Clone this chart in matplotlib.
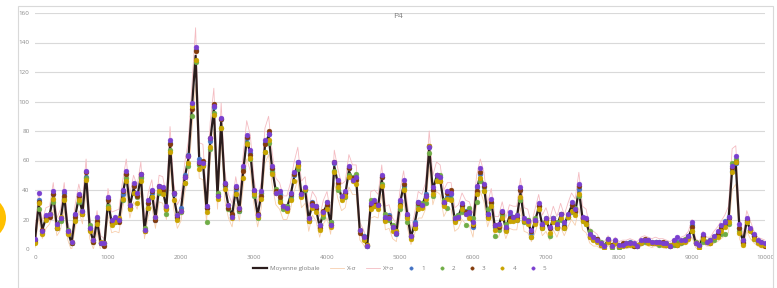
import numpy as np
import matplotlib
matplotlib.use("Agg")
import matplotlib.pyplot as plt
from matplotlib.patches import Rectangle, Circle

plt.rcParams['font.family'] = ['Open Sans', 'DejaVu Sans']

x_start, x_step = 0, 50
title = "P4"
legend_labels = ["Moyenne globale", "X-σ", "X+σ", "1", "2", "3", "4", "5"]
yticks = [0, 20, 40, 60, 80, 100, 120, 140, 160]
xticks = [0, 1000, 2000, 3000, 4000, 5000, 6000, 7000, 8000, 9000, 10000]

mean = [6,30,13,21,23,36,15,20,36,12,
        4,22,35,25,50,14,5,19,4,3,
        32,18,19,19,37,50,29,41,35,49,
        13,30,38,21,41,40,28,70,36,22,
        27,48,61,96,131,60,59,27,73,95,
        36,86,43,29,23,40,27,52,74,65,
        39,23,37,70,77,54,39,36,28,28,
        36,49,58,37,40,20,31,27,15,25,
        30,17,56,44,35,37,53,47,47,12,
        8,2,30,31,29,47,21,22,14,11,
        31,43,23,8,17,30,29,36,68,40,
        49,47,31,36,36,20,22,29,25,24,
        16,40,50,42,23,32,15,15,24,14,
        22,21,21,38,20,19,11,19,28,16,
        20,13,21,15,23,16,23,29,25,40,
        21,19,9,7,6,3,2,6,2,5,
        2,3,3,4,3,2,5,6,5,4,
        5,4,4,3,2,4,4,5,6,8,
        14,4,2,8,5,5,8,10,13,16,
        20,54,57,14,5,19,13,8,5,4,
        3]

sigma = [5,9,6,7,6,9,6,7,9,6,
         5,8,9,8,11,7,5,7,5,4,
         9,7,7,8,9,11,8,9,8,10,
         6,8,9,7,9,9,8,13,9,8,
         8,10,12,15,19,12,12,9,13,14,
         9,13,10,8,8,9,8,11,13,12,
         9,8,9,12,13,11,9,9,8,8,
         9,10,11,9,9,8,8,8,7,8,
         9,7,11,10,9,9,11,10,10,6,
         5,4,9,9,8,10,8,8,7,6,
         9,10,8,5,7,9,8,9,12,10,
         10,10,9,9,9,8,8,9,8,8,
         8,10,11,10,8,9,7,7,8,7,
         8,8,8,10,8,8,6,8,9,7,
         8,7,8,7,8,7,8,9,9,12,
         8,8,5,5,4,3,3,3,3,3,
         3,3,3,3,3,3,3,3,3,3,
         3,3,3,3,3,3,3,3,3,4,
         6,3,3,4,3,3,4,5,6,7,
         9,14,13,7,4,7,6,4,3,3,
         3]

dev1 = [0,3,-1,1,0,1,-1,0,2,0,
        0,1,1,0,-1,0,1,-1,0,0,
        2,1,0,1,0,1,-1,2,1,0,
        0,1,0,-1,1,-1,0,2,1,-1,
        1,2,3,2,4,1,-2,1,0,1,
        1,2,0,-1,0,1,-1,2,1,0,
        -1,0,1,2,1,0,-1,1,0,1,
        0,1,1,-1,0,0,1,0,1,0,
        -1,1,2,-1,0,1,2,0,1,0,
        1,0,0,-1,1,2,0,1,0,-1,
        1,0,-1,0,1,2,0,1,1,0,
        1,2,0,-1,1,0,1,0,1,0,
        -1,2,1,0,1,-1,0,1,0,-1,
        1,0,-1,2,0,1,0,-1,1,0,
        0,1,0,-1,1,0,-1,1,0,1,
        0,-1,1,0,1,0,0,1,0,0,
        1,0,0,1,0,0,-1,0,1,0,
        0,1,0,0,1,0,1,0,0,1,
        2,0,1,0,0,1,0,1,2,3,
        2,-1,1,0,0,1,0,1,0,0,
        0]

dev2 = [0,-3,-2,0,1,-4,1,-1,-2,1,
        0,-2,-3,1,-2,2,0,2,0,1,
        -3,0,-1,1,-4,-2,1,-3,0,-1,
        1,-2,-3,0,-3,-2,-4,-3,2,1,
        -2,-3,-5,-6,-4,-3,-2,-9,-5,-3,
        2,-4,1,-2,-1,-3,-1,3,-2,-4,
        -3,-2,1,-4,-5,-2,2,-3,-1,1,
        -2,2,-4,-1,0,1,-2,2,1,-3,
        2,1,-3,-4,1,-2,-3,2,4,0,
        -1,0,3,-2,1,-3,3,-2,2,1,
        -4,-2,-5,1,-3,0,2,-5,-3,-4,
        -2,3,2,-8,-2,2,1,-4,-9,4,
        5,-8,-4,-3,4,-1,-6,-2,-1,3,
        -2,0,2,-5,-2,1,-3,2,-1,-2,
        1,-4,0,3,-3,-2,-1,-4,3,-4,
        -2,-2,3,1,1,2,1,0,-1,-1,
        -1,0,1,0,-1,1,0,-1,0,1,
        0,-1,0,1,0,-1,0,-1,1,0,
        -2,1,0,-3,0,1,-2,-1,-3,-6,
        -3,4,4,-2,1,-1,0,-1,0,1,
        0]

dev3 = [-1,2,0,0,-1,1,-1,1,0,-1,
        0,0,1,-1,2,-1,0,0,0,-1,
        1,0,0,-1,2,1,-1,2,1,2,
        -1,1,1,-1,2,0,-1,1,2,0,
        -1,1,2,-1,3,-2,1,1,2,3,
        0,2,1,-1,1,2,0,1,2,-1,
        0,1,-1,1,3,1,0,-1,1,-1,
        1,2,-1,0,1,-1,0,1,-1,1,
        0,-1,3,1,0,1,2,1,0,-1,
        0,1,-1,0,1,2,-1,0,1,0,
        -1,1,0,1,-1,1,0,0,2,0,
        1,-1,0,2,4,0,-1,1,0,1,
        0,-1,2,1,-1,0,1,0,1,0,
        -1,1,0,2,-1,0,1,0,1,-1,
        0,1,-1,0,1,-1,0,1,1,3,
        0,1,-1,0,1,0,0,0,1,0,
        0,1,0,0,-1,0,0,1,0,0,
        -1,0,1,0,0,1,-1,0,0,0,
        1,0,0,1,0,-1,0,0,1,1,
        1,1,2,0,-1,1,0,1,0,0,
        -1]

dev4 = [-2,1,-3,-1,1,-2,-1,2,-3,-2,
        1,-3,-2,-1,-3,-2,1,-2,1,1,
        -4,-2,-1,2,-3,-4,-2,-3,-4,-3,
        -1,-2,-3,1,-2,-3,-1,-4,-3,-2,
        -1,-3,-3,1,-3,-6,-3,-2,-4,-4,
        -2,-4,-2,1,-2,-3,1,-4,-3,-3,
        -2,-1,-3,-4,-3,-3,-1,-4,1,-2,
        -3,-3,-2,-2,1,-1,-3,-2,-2,-1,
        -3,-2,-4,-2,-2,-1,-4,-1,-3,1,
        -2,1,-3,-2,-2,-4,-2,-1,-2,1,
        -2,-3,-2,-1,-3,-3,-1,-2,2,-3,
        -3,-1,-2,-2,-3,-2,-1,-2,-1,-3,
        1,-3,-2,-3,-2,-3,-2,1,-3,-2,
        -3,-2,-1,-3,-1,-2,-3,-2,-1,-2,
        -2,-2,-3,-1,-2,-2,-1,-3,-2,-3,
        -2,-2,-1,-1,-1,0,-1,-1,0,-1,
        0,-1,0,-1,0,1,-1,0,-1,0,
        -1,0,-1,0,1,0,-1,0,-1,-1,
        -2,0,-1,-1,0,-1,0,-2,-1,-1,
        -2,-2,2,-3,-2,-1,-1,-1,-1,-1,
        0]

dev5 = [1,8,-1,2,1,3,2,1,3,0,
        1,2,2,1,3,0,1,3,0,1,
        3,2,3,1,3,3,1,4,3,2,
        0,3,2,1,2,2,1,4,2,1,
        -1,1,2,3,6,-1,-1,2,2,2,
        0,3,2,1,-1,3,1,4,3,2,
        1,0,2,4,1,2,-1,3,1,0,
        2,3,1,0,2,1,-1,2,1,0,
        2,-1,3,3,1,2,3,0,2,1,
        0,0,1,2,1,3,1,-1,1,0,
        2,4,1,1,0,2,1,0,1,2,
        1,2,1,3,2,1,0,2,-1,1,
        2,3,5,2,1,2,1,2,2,1,
        3,1,2,4,1,0,2,1,3,1,
        1,2,0,2,1,2,1,3,2,4,
        1,2,1,1,0,1,0,1,0,1,
        1,0,1,0,1,0,1,0,1,1,
        0,1,0,1,0,2,4,1,0,1,
        4,0,1,2,0,1,1,2,3,2,
        2,2,6,3,1,2,1,2,1,1,
        1]

m = np.array(mean, dtype=float)
s = np.array(sigma, dtype=float)
x = x_start + x_step * np.arange(len(m))
series = [m + np.array(d, dtype=float) for d in (dev1, dev2, dev3, dev4, dev5)]
marker_colors = ["#4472C4", "#70AD47", "#843C0C", "#C9A400", "#7A3FD0"]

W, H = 777, 288
fig = plt.figure(figsize=(W / 100, H / 100), dpi=100)
fig.patch.set_facecolor("white")

# chart-area border
fig.add_artist(Rectangle((18 / W, 0), (773 - 18) / W, 1 - 6 / H, transform=fig.transFigure,
                         fill=False, edgecolor="#d9d9d9", linewidth=0.8))
# yellow blob at left edge
ax_blob = fig.add_axes([0, 0, 1, 1], zorder=-1)
ax_blob.set_xlim(0, W)
ax_blob.set_ylim(H, 0)
ax_blob.axis("off")
ax_blob.add_patch(Circle((-16, 218), 22, facecolor="#FFC000", edgecolor="none"))

ax = fig.add_axes([35 / W, 1 - 249 / H, (765 - 35) / W, (249 - 13) / H])
ax.patch.set_alpha(0)
ax.set_xlim(0, 10000)
ax.set_ylim(0, 160)
for sp in ax.spines.values():
    sp.set_visible(False)
ax.set_yticks(yticks)
ax.set_xticks(xticks)
ax.tick_params(length=0, labelsize=4.5, colors="#8c8c8c", pad=4)
ax.grid(axis="y", color="#d9d9d9", linewidth=0.8)
ax.set_axisbelow(True)

lm, = ax.plot(x, m, color="#2b1d1d", linewidth=1.6, zorder=3, label=legend_labels[0])
lmin, = ax.plot(x, m - s, color="#f7cfae", linewidth=0.6, zorder=2, label=legend_labels[1])
lmax, = ax.plot(x, m + s, color="#f4bcc2", linewidth=0.6, zorder=2, label=legend_labels[2])
handles = [lm, lmin, lmax]
for k, (vals, c) in enumerate(zip(series, marker_colors)):
    h, = ax.plot(x, vals, linestyle="none", marker="o", markersize=3.5,
                 markerfacecolor=c, markeredgecolor=c, markeredgewidth=0.3,
                 zorder=4 + k, label=legend_labels[3 + k])
    handles.append(h)

fig.text(398 / W, 1 - 17 / H, title, ha="center", va="center", fontsize=6, color="#7f7f7f")

leg = fig.legend(handles=handles, labels=legend_labels, loc="center",
                 bbox_to_anchor=(400 / W, 1 - 268 / H), ncol=8, frameon=False,
                 fontsize=4.5, handlelength=2.2, columnspacing=1.6, handletextpad=0.5,
                 markerscale=0.7)
for t in leg.get_texts():
    t.set_color("#7f7f7f")

fig.savefig("out.png", dpi=100, facecolor="white")
